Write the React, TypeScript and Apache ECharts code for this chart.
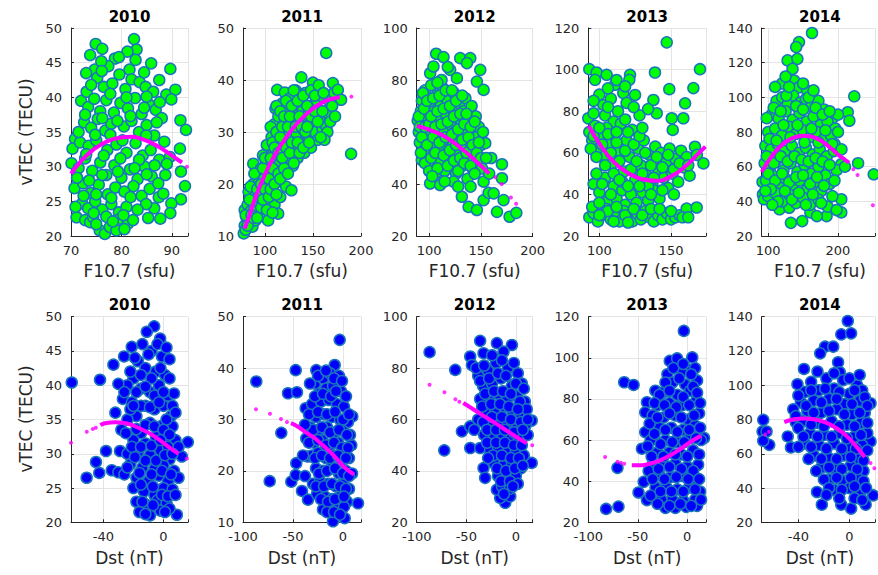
import React, { useEffect, useRef } from 'react';
import * as echarts from 'echarts';

// ---------- DATA ----------
const years = ['2010', '2011', '2012', '2013', '2014'];

// vTEC (TECU) vs F10.7 (sfu)
const f107_2010: number[][] = [
  [74.9,47.7],[76.2,47.0],[82.5,48.4],[83.0,46.9],[81.2,46.6],[73.8,46.1],[78.7,45.6],[74.7,44.0],[77.4,44.5],[81.6,44.0],[82.8,45.4],[85.9,44.9],[89.7,44.1],
  [75.2,42.8],[76.5,41.5],[78.2,42.0],[79.6,43.3],[80.8,41.2],[82.0,42.6],[83.6,42.2],[84.8,41.5],[86.3,40.8],[88.9,40.4],[90.7,41.1],[89.9,39.7],
  [72.0,39.5],[73.1,40.8],[73.4,38.6],[74.6,39.8],[75.8,38.0],[77.0,39.6],[78.5,37.8],[79.8,39.2],[81.3,38.4],[82.7,39.9],[84.0,37.6],[85.4,39.0],[86.8,38.2],[88.0,37.0],
  [72.6,36.4],[74.0,35.6],[75.3,36.9],[76.8,35.2],[78.0,36.2],[80.5,35.8],[82.0,36.6],[83.5,35.0],[85.0,36.0],[86.5,34.5],[91.7,36.7],[92.8,35.3],
  [70.8,34.0],[70.3,32.6],[71.8,33.5],[73.5,33.0],[75.0,33.8],[77.2,32.4],[79.0,33.2],[81.0,32.0],[82.8,33.4],[84.2,31.6],[85.8,32.4],[87.5,31.0],[91.6,32.6],
  [70.1,30.5],[69.8,28.5],[71.5,29.8],[72.8,31.2],[74.2,29.4],[75.8,30.6],[77.0,28.8],[78.6,30.2],[80.0,28.4],[81.7,29.6],[83.2,28.2],[84.6,30.0],[86.0,28.6],[88.7,28.8],[89.6,31.4],[91.8,29.3],
  [70.7,26.9],[72.4,27.6],[73.9,26.2],[75.5,27.4],[77.3,26.0],[78.8,27.0],[80.6,26.4],[82.4,27.2],[84.0,25.8],[85.6,26.8],[87.4,25.6],[92.6,27.2],[91.8,25.3],
  [71.1,22.7],[72.2,24.7],[73.4,24.0],[74.8,25.0],[76.2,23.8],[78.0,24.6],[79.5,23.4],[81.0,24.2],[86.5,24.0],[89.9,24.7],[89.7,23.3],[87.7,22.5],[85.3,22.6],
  [72.8,22.3],[73.8,22.0],[74.4,22.7],[75.7,20.8],[76.7,20.3],[77.7,21.3],[79.0,20.8],[79.7,22.5],[81.3,21.8],[82.3,22.3],
  [73,43.5],[76,45.2],[79.5,45.8],[84.5,43.6],[87.5,42.5],[74,41.8],[77.8,40.5],[81,40],[85,40.1],[87.6,39.3],[72.8,37.5],[76.2,37],[79.2,36.6],[81.8,37.3],
  [84.5,38.5],[87,36.4],[71.5,35],[74.8,34.6],[77.8,34.6],[80.2,33.8],[84.9,34.5],[88.5,33.6],[73,31.8],[76.5,31.6],[79.8,31.2],[83.5,31],[86.6,30.2],[89,30.4],
  [71.2,28.4],[73.6,28],[76.2,28.8],[79.3,29.3],[82.6,29.8],[85,28.9],[87.3,27.6],[72.5,25.8],[75,26],[78,25.5],[81.8,25.6],[84.9,24.6],[88.3,26.1],[70.9,24.2],
  [74.5,23.3],[77,22.8],[80.4,23],[83.2,23.8],[75,21.7],[78.3,22.1],[80.6,21],[76.1,43.8]
];
const f107_2011: number[][] = [
  [78,10.5],[79,12],[80,11.2],[81,13.5],[79,15],[82,16],[84,12.5],[85,14.8],[86,17.5],[83,18.5],[87,11.8],[88,20],[89,15.5],[90,13],[90,18.2],[91,22],[87.9,23.9],
  [93,16.5],[94,20.5],[95,14],[96,23],[97,18],[98,25.5],[99,21],[100,16.5],[101,13.5],[102,19.5],[103,24],[104,27.5],[103.4,13],[105,15.5],[106,22],[107,29],
  [108,18.5],[109,26],[110,31.5],[110,16],[111,34.5],[112,21.5],[112.8,38.1],[113,28],[113.8,14.3],[114,33],[115,24.5],[116,17.5],[117,30],[118,35.5],[119,22.5],
  [120,27],[120.7,37.6],[121,32],[122,19.5],[123,34.5],[124,25],[125,29.5],[126,36.5],[127.6,18.8],[128,31],[129,23.5],[130,27.5],[131,34],[132,38],[133,29.5],
  [134,25],[135,32],[136,36],[137.9,40.5],[138,28],[139,34],[140,30.5],[141,26],[142,37.5],[143,33],[145,29],[146,35],[147,31.5],[148,27],[150,39.5],[150,33.5],
  [152,30],[154,36],[155,28.5],[157,32.5],[158,37],[160,30.5],[162,34],[163.8,45.2],[164,31],[166,33.5],[167,36],[170.7,39.4],[172,37.5],[175.9,38.1],[179.3,36.2],[189.7,25.8],
  [80,14],[82,12],[84,17],[86,14],[88,13.5],[85,19.5],[89,22],[92,19],[92,13.5],[94,17.5],[96,15.5],[96,20],[98,17],[98,23],[100,19],[100,25],[102,15],[102,27.5],
  [104,17.5],[104,21],[106,19],[106,25],[106,31],[108,23],[108,28],[108,14.5],[110,20],[110,27],[112,18],[112,30],[112,35],[114,22],[114,26],[116,29],[116,34],
  [116,21],[118,25],[118,31],[120,23],[120,33],[122,27],[122,36],[124,22],[124,31],[126,26],[126,33],[128,28],[128,35],[130,24],[130,38],[132,31],[134,28],
  [134,36],[136,26],[136,33],[138,31],[140,27],[140,37],[142,30],[144,35],[144,31],[146,28],[148,33],[148,38],[152,34],[152,37],[155,32],[156,39],[160,34],
  [161,37.5],[165,30],[168,32],[170,35],[173,33],[162,28.5],[158,29]
];
const f107_2012: number[][] = [
  [106.8,90.1],[113.9,88.8],[130,88.4],[139.7,88.4],[136.5,86.5],[149.4,83.9],[101,82.6],[104.2,85.2],[120.3,83.9],[126.8,80.7],[146.1,79.4],[152.6,76.2],
  [89,64.4],[90,60],[91,56],[92,68],[93,72],[92.9,49.2],[94,63],[95,53],[96,76],[97,59],[98,66],[99,47],[100,71],[101,55],[102,78],[103,62],[104,51],[105,68],
  [106,44],[107,74],[108,58],[109,64],[110,49],[111,70],[112,54],[113,77],[114,61],[115,45],[116,67],[117,52],[118,72],[119,57],[120,63],[121,48],[122,69],
  [123,55],[124,75],[125,60],[126,44],[127,66],[128,51],[129,71],[130,57],[131,63],[132,47],[133,68],[134,54],[135,73],[136,60],[137,42],[138,50],[139,65],
  [140,56],[141,70],[142,46],[143,61],[144,53],[145,66],[146,58],[147,48],[148,62],[150,55],[151,46],[154.2,55.7],[101,40.2],[110.6,39.6],[123.5,40.9],
  [131.6,35.1],[138.1,31.2],[146.1,30],[152.6,33.8],[157.4,36.6],[162.3,36.4],[165.5,29.3],[171.9,33.8],[170.3,47.6],[170.3,42.2],[177.7,27.4],[184.2,28.9],
  [152.6,40.9],[158,44],[160,50],
  [90,66],[91,62],[92,52],[93,58],[94,75],[95,69],[96,48],[96,62],[98,72],[98,55],[100,63],[100,45],[102,66],[102,50],[104,73],[104,58],[106,62],[106,52],
  [108,68],[108,46],[110,74],[110,56],[112,63],[112,80],[114,51],[114,69],[116,58],[116,76],[118,47],[118,64],[120,70],[120,53],[122,59],[122,76],[124,49],
  [124,66],[126,55],[126,72],[128,61],[128,45],[130,67],[130,50],[132,57],[132,74],[134,63],[134,48],[136,67],[136,52],[138,58],[140,62],[140,47],[142,55],
  [144,64],[144,44],[146,52],[148,56],[150,50],[152,60],[155,50],[103,43],[115,41],[128,39],[140,39],[118,85],[108,79]
];
const f107_2013: number[][] = [
  [147,113.1],[93,100.2],[98.1,98.6],[97,95.1],[105.1,97.5],[121.4,97.5],[120.9,95.1],[138.8,98.6],[148.8,90.6],[165.6,91.1],[170.2,100.2],[110.9,92.7],
  [116.7,88.7],[124.9,87.8],[137.7,85.4],[159.8,83.8],[158.6,76.6],[150.5,76.6],[151.2,71],[102.8,83],[92.3,76.6],[140,79],[108,86],[113,80],[119,84],
  [128,78],[134,81],[104,78],[110,75],
  [93,70],[95,66],[97,73],[99,62],[101,68],[103,58],[105,72],[107,64],[109,55],[111,69],[113,61],[115,74],[117,51],[119,66],[121,58],[123,71],[125,47],
  [127,62],[129,54],[131,66],[133,49],[135,59],[137,45],[139,63],[141,52],[143,60],[145,48],[147,56],[149,62],[151,50],[153,57],[155,46],[157,61],[159,53],
  [161,58],[163,49],[166.7,62.9],[168,59],[172.6,54.9],[174.9,49.3],
  [96,45],[100,41],[104,48],[106,37],[110,44],[112,38],[116,42],[118,35],[122,40],[126,36],[130,41],[134,37],[138,42],[142,38],[148,43],
  [93,29],[96,31],[99,27],[102,30],[105,33],[108,28],[111,31],[114,27],[117,32],[120,29],[123,27],[126,31],[129,28],[132,32],[135,29],[138,27],[141,30],
  [144,28],[147,31],[150,28],[153,29],[156,30],[160.9,33.2],[167.9,33.7],
  [94,62],[96,68],[98,58],[100,72],[102,64],[104,54],[106,69],[108,60],[110,50],[112,65],[114,56],[116,46],[118,61],[120,70],[122,52],[124,64],[126,56],
  [128,68],[130,50],[132,60],[134,44],[136,54],[138,48],[140,58],[144,53],[148,59],[152,52],[156,55],[162,54],[98,50],[102,45],[108,40],[114,47],[120,44],
  [128,44],[136,40],[144,42],[152,40],[95,34],[100,36],[106,32],[112,34],[118,30],[124,33],[130,30],[136,33],[142,33],[150,32],[158,29],[162,29],[100,30],
  [110,27],[120,26.5],[96,79],[100,88],[106,91],[112,95],[118,92],[124,82],[130,72],[106,82],[112,70],[118,76],[96,85]
];
const f107_2014: number[][] = [
  [162.8,137.1],[144.2,131.9],[140.2,129],[127.9,121.3],[141.9,122.2],[134.9,116.4],[137.2,109.7],[144.2,105.8],[155.8,103.9],[223.3,100.6],[214,91.4],[216.3,86.5],
  [228.8,62],[251.2,55.6],[204.7,61.4],[195.3,73],[204.7,41.2],[204.7,33.6],[183.7,31.5],
  [92,51.2],[92.5,44],[94,41.2],[132.6,27.6],[148.8,28.6],[160.5,33.6],[169.8,31.5],[116.3,35.4],[130.2,36.3],
  [112,98],[120,100],[128,96],[136,101],[146,97],[154,99],[162,95],[172,98],[180,93],[192,88],[200,90],
  [105,90],[115,88],[125,92],[135,87],[145,91],[155,86],[165,89],[175,84],[185,86],[196,82],
  [100,80],[110,82],[120,78],[130,83],[140,79],[150,81],[160,77],[170,80],[180,76],[190,78],
  [96,72],[104,70],[114,73],[124,69],[134,72],[144,68],[154,71],[164,67],[174,70],[184,66],[194,69],
  [95,62],[103,60],[112,64],[122,58],[132,62],[142,57],[152,61],[162,56],[172,60],[182,55],[198,58],[210,60],
  [97,52],[106,55],[115,50],[125,53],[135,48],[145,52],[156,47],[166,51],[176,46],[188,50],
  [100,43],[110,45],[120,40],[130,44],[140,39],[150,42],[160,38],[172,41],[185,37],[198,35],
  [98,88],[108,94],[118,92],[126,101],[140,95],[150,93],[158,100],[168,94],[178,90],[188,92],[102,76],[112,75],[122,84],[132,77],[142,84],[152,74],[162,82],
  [172,74],[182,81],[192,73],[200,80],[98,66],[108,62],[118,66],[128,63],[138,66],[148,64],[158,63],[168,65],[178,63],[188,61],[205,70],[100,56],[110,52],
  [120,56],[130,51],[140,54],[150,55],[160,50],[170,54],[180,49],[195,52],[104,47],[114,40],[124,46],[134,41],[144,45],[154,38],[164,44],[176,39],[192,43],
  [120,108],[130,106],[150,108],[165,104],[110,106],[125,112],[96,46],[106,38]
];

// vTEC (TECU) vs Dst (nT)
const dst_2010: number[][] = [
  [-61,40.4],[-42.2,40.8],[-51.1,26.5],[-42.7,27.2],[-44.9,28.8],[-38.2,30.4],[-28.9,30.4],[-33.3,43],[-26.2,44.2],[-21.1,45.6],[-34.4,27.6],[-30,27.3],
  [16.2,31.7],[8.9,21.1],[12.2,29.6],
  [-6.2,48.6],[-11.1,47.8],[-2.2,46.8],[-14,46],[-8,45],[-1,44.2],[4,43.8],[-17,43.5],[-12,42.5],[-5,42],[1,41.5],[-20,41],[-24,40],[-30,40.2],[-15,39.5],
  [-9,39],[-3,40],[3,38.5],[7,38.8],[-27,38],[-21,37.5],[-12,37],[-6,36.5],[0,37],[5,35.5],[-18,35.5],[-24,35],[-9,34.5],[-2,34],[6,34],[-15,33],[-28,33.5],
  [-20,32],[-12,31.5],[-5,32.5],[1,31.8],[8,32],[-24,30],[-17,30.2],[-9,29.8],[-2,30.5],[4,29.2],[-22,28.5],[-14,28],[-6,27.8],[0,28.3],[7,27.5],[-26,27],
  [-18,26.5],[-10,26],[-3,26.8],[3,26],[10,26.5],[-20,25],[-13,24.5],[-6,24],[0,25],[6,24.8],[-18,23],[-11,22.5],[-4,23.2],[2,22.8],[-16,21.5],[-9,21],[-2,21.7],[4,22],
  [-19,44],[-10,44.5],[-4,46],[2,45.5],[-22,42],[-15,41.5],[-8,41],[-2,42.5],[4,41],[-26,39],[-18,39],[-12,39.8],[-6,38.5],[0,39],[6,37],[-22,36.5],[-15,37],
  [-9,36.8],[-3,37.5],[2,35],[8,36],[-25,33],[-18,33.6],[-12,34.2],[-6,34],[0,33.5],[4,32.8],[-21,31],[-15,31],[-8,31.2],[-2,32],[3,31],[10,31],[-19,29.5],
  [-12,29],[-5,29],[1,29.8],[6,30],[-24,28],[-16,27.2],[-8,27],[-1,27.5],[5,27],[-15,25.5],[-7,25.2],[-1,24],[3,23.8],[8,24],[-14,23],[-7,22.5],[1,21.5],
  [-12,21.2],[-20,37],[-32,36]
];
const dst_2011: number[][] = [
  [-86.7,37.4],[-73.3,18],[-51.7,17.9],[-47.3,19.2],[-46.7,21.5],[-61.7,27.4],[-47.3,39.6],[-55,35.1],[-46,35.3],[-3.3,45.5],[8.3,25],[15,13.7],[9.3,30.6],
  [-26.7,39.6],[-8.3,40.6],[-37.3,32.2],[-36.7,26.3],[-35,22.8],[-41,16.1],[-35,14.4],[-10,10.2],[1.7,10.8],
  [-28,37],[-20,38],[-13,39],[-4,38.5],[-24,35],[-17,36],[-10,36.5],[-2,35.5],[-31,33],[-22,33.5],[-14,33.8],[-6,33],[1,32.5],[-27,30.5],[-19,31],[-11,30.5],
  [-3,30],[5,29.5],[-33,28.5],[-24,28],[-16,28.5],[-8,27.5],[0,27.8],[7,27],[-29,25.5],[-21,26],[-13,25],[-5,25.5],[2,24.5],[-31,23],[-25,23.5],[-17,22.5],
  [-9,23],[-1,22],[6,22.5],[-27,20.5],[-20,20],[-12,20.5],[-4,19.5],[3,20],[9,19.5],[-30,17.5],[-23,18],[-15,17.5],[-7,17],[0,17.5],[6,16.5],[-26,15.5],
  [-18,15],[-11,14.5],[-3,15],[4,14],[-20,12.5],[-13,12],[-6,12.5],[1,13],
  [-33,37],[-25,38.5],[-17,39.5],[-9,38],[-1,37.5],[-28,34.5],[-20,35],[-12,34.5],[-7,35.5],[3,34.5],[-34,31],[-25,31.5],[-16,31],[-8,31.5],[0,30],[6,31],
  [-30,28],[-21,28.5],[-13,27.5],[-4,28],[4,27],[-34,25.5],[-25,26],[-17,25],[-9,25.5],[-1,24.5],[5,24.5],[-28,22.5],[-21,23],[-13,22.5],[-5,23],[3,22.5],
  [-24,19.5],[-16,20],[-8,20.5],[0,19.5],[6,19],[-27,17],[-19,17],[-11,17.5],[-3,17],[3,16.5],[-22,14.5],[-15,14],[-8,14.5],[1,15],[-16,12],[-9,12],[-3,11.5],
  [-38,19],[-40,23],[-38,29]
];
const dst_2012: number[][] = [
  [-87,86.2],[-61.1,79.3],[-72.2,48],[-54.4,55.4],[-46,57.3],[-46,48.9],[-35.9,48.9],[-32.6,41.1],[-31,37.3],[16,59.6],[16,43.1],
  [-36,90.6],[-32.6,85.8],[-4,89],[-19.1,89.7],[-12.4,86.4],[-46,84.5],[-44.3,81.2],
  [-10.7,27.6],[-15.8,29.5],[-5.7,30.1],[-19.1,32.7],
  [-38,77],[-28,79],[-20,82],[-8,80],[2,78],[-33,73],[-24,74],[-15,76],[-4,73],[6,74],[-36,68],[-26,69],[-18,70],[-9,68],[1,69],[9,67],[-30,63],[-21,64],
  [-12,65],[-3,63],[5,62],[-38,60],[-27,58],[-17,59],[-8,58.5],[1,57],[10,58],[-32,54],[-22,53],[-14,54],[-5,53],[4,52],[12,54],[-26,48],[-18,49],[-9,47],
  [0,48],[8,46],[-22,43],[-13,42],[-4,43],[5,41],[-18,38],[-9,37],[0,38],[-14,34],[-6,33],
  [-40,80],[-32,81],[-24,85],[-14,83],[-2,82],[-36,75],[-27,76],[-18,78],[-10,77],[0,74],[8,72],[-31,70],[-22,71],[-13,71],[-5,70],[4,67],[11,64],[-34,65],
  [-25,66],[-16,66],[-7,65],[2,64],[-42,56],[-33,59],[-24,61],[-14,61],[-5,60],[5,59],[12,60],[-29,56],[-20,56],[-11,56],[-2,55],[7,56],[-29,51],[-20,51],
  [-11,51],[-2,50],[6,50],[-23,46],[-14,46],[-5,45],[3,45],[-19,41],[-10,40],[-1,41],[7,42],[-15,36],[-6,36],[2,35],[-12,31],[-3,34],[-28,45]
];
const dst_2013: number[][] = [
  [-82,26.5],[-69.5,27.6],[-70.5,46.5],[-63.7,88.1],[-54.2,86.8],[-3.4,113.1],[-49.2,34.5],[-45.8,55.8],[-32.2,84],[17,61],
  [-17.6,98.5],[-10.2,99.7],[5.1,100.2],[0,94.5],
  [-40.7,78.4],[-42.4,73.5],[-42.4,63.9],[-44,39.7],[-40.7,30.8],
  [-20,92],[-6,93],[8,95],[-15,88],[-2,87],[10,89],[-25,83],[-10,82],[3,84],[-30,77],[-18,78],[-5,77],[9,79],[-35,72],[-24,71],[-12,72],[1,70],[12,73],
  [-28,66],[-16,66],[-4,65],[8,67],[-37,60],[-22,60],[-10,59],[3,61],[14,60],[-30,54],[-18,54],[-6,53],[6,55],[-35,48],[-24,48],[-12,48.5],[0,47],[11,48],
  [-28,43],[-17,42],[-5,42.5],[7,41],[-32,37],[-21,37],[-10,36],[2,37],[13,35],[-26,31],[-15,31],[-4,30.5],[8,31],[-22,27],[-12,27],[-1,27.5],[10,28],
  [-14,95],[-4,97],[4,92],[-22,88],[-8,90],[6,86],[-28,82],[-18,84],[-4,81],[10,83],[-33,78],[-23,77],[-11,76],[2,77],[13,78],[-38,68],[-30,71],[-18,73],
  [-6,71],[7,72],[-33,63],[-22,65],[-10,64],[2,65],[13,66],[-40,57],[-27,58],[-15,59],[-3,59],[9,61],[-36,52],[-24,52],[-12,53],[0,52],[12,53],[-39,45],
  [-29,46],[-18,47],[-6,46],[6,45],[-35,41],[-23,41],[-11,42],[1,41],[12,41],[-37,33],[-27,35],[-16,35],[-4,35],[8,36],[-30,29],[-18,28],[-7,29],[4,28],[14,31]
];
const dst_2014: number[][] = [
  [-67.5,79.8],[-68,73],[-64.9,73],[-62.8,65.2],[-67.5,67.6],
  [-1.3,137.5],[-6.4,129.7],[1.3,130.3],[-19.1,122.5],[-12.7,122.5],[-22.9,118.6],[-8.9,113.4],[-7.6,107.6],
  [-40.7,100.6],[-35.6,109.5],[-48.3,70.1],[-45.8,63.7],[-42,78.4],
  [16.5,89.5],[16.5,67.2],[18.6,35.7],[12.7,30.3],[1.3,28],[-6.4,30.3],[-21.6,30.3],[-25.4,37.7],
  [-30,102],[-18,104],[-5,103],[6,100],[-35,96],[-24,97],[-12,98],[0,95],[10,97],[-38,90],[-28,91],[-16,92],[-4,89],[8,91],[-33,85],[-22,84],[-10,86],
  [2,83],[12,84],[-37,79],[-26,78],[-14,79],[-2,77],[9,78],[-31,72],[-20,71],[-8,72],[4,70],[14,72],[-35,66],[-24,65],[-12,66],[0,64],[10,65],[-28,59],
  [-17,58],[-5,59],[6,57],[-22,52],[-11,51],[1,53],[11,50],[-16,45],[-5,44],[6,46],[-12,39],[0,40],[9,38],
  [-25,108],[-12,107],[0,104],[8,106],[-40,94],[-30,97],[-19,98],[-8,96],[4,97],[12,93],[-44,86],[-34,88],[-22,90],[-10,92],[2,89],[14,88],[-42,82],[-28,84],
  [-16,85],[-4,83],[8,84],[-40,75],[-30,77],[-20,76],[-8,76],[4,76],[14,78],[-36,70],[-25,70],[-14,70],[-2,69],[9,71],[-40,64],[-30,64],[-18,63],[-6,63],
  [5,63],[14,62],[-32,57],[-22,57],[-10,57],[1,58],[11,56],[-26,50],[-16,52],[-6,51],[6,51],[-20,45],[-10,46],[1,46],[11,44],[-16,40],[-6,39],[4,41],[13,40],
  [-8,34],[4,34],[-18,36],[10,33]
];

// quadratic fit curves (dense part) and isolated fit dots
const f107Fit_2010 = [[70,29.0],[72,30.8],[74,32.2],[76,33.2],[78,33.9],[80,34.2],[82,34.3],[84,34.0],[86,33.4],[88,32.6],[90,31.6],[92,30.6]];
const f107FitDots_2010 = [[93,30.0]];
const f107Fit_2011 = [[79,11.4],[85,14.6],[90,17.3],[100,21.8],[110,25.5],[120,28.4],[130,30.9],[140,32.9],[150,34.5],[160,35.7],[170,36.4],[178,36.7]];
const f107FitDots_2011 = [[190,36.8]];
const f107Fit_2012 = [[88,62.3],[95,61.6],[100,60.9],[110,59.3],[120,57],[130,54],[140,50.7],[150,47],[158,44]];
const f107FitDots_2012 = [[164,42.6],[170,40],[179,34.8],[184,32.4]];
const f107Fit_2013 = [[92.5,73],[100,64.5],[110,55.6],[120,50.3],[130,47.3],[140,46.6],[150,48.7],[160,53.5],[170,60.3],[174,63]];
const f107FitDots_2013: number[][] = [];
const f107Fit_2014 = [[91,57],[100,63],[110,68.5],[120,72.6],[130,75.5],[140,77.2],[150,77.9],[160,77.6],[170,76.2],[180,73.8],[190,70.6],[200,67],[210,64],[216,62.2]];
const f107FitDots_2014 = [[222,58.5],[228,55.2],[250,37.7]];

const dstFit_2010 = [[-42,34.2],[-38,34.5],[-32,34.6],[-26,34.5],[-20,34.1],[-14,33.5],[-8,32.8],[-2,31.9],[4,30.9],[10,30.0]];
const dstFitDots_2010 = [[-61.5,31.6],[-51,33.2],[-47,33.6],[-45,33.8],[15.5,29.3]];
const dstFit_2011 = [[-52,29.3],[-45,28.6],[-38,27.6],[-30,26.6],[-22,25.3],[-14,23.9],[-6,22.3],[2,20.6],[11,19.3]];
const dstFitDots_2011 = [[-87,32],[-73,31.1],[-62,30.1],[-56,29.5]];
const dstFit_2012 = [[-53,66.4],[-45,64.5],[-37,62.5],[-29,60.6],[-21,58.7],[-13,56.6],[-5,54.6],[3,52.6],[11,50.7]];
const dstFitDots_2012 = [[-87,73.5],[-72,70.6],[-61,67.9],[-57,66.9],[16.5,50]];
const dstFit_2013 = [[-56,47.7],[-48,47.7],[-40,48.2],[-32,49.3],[-24,50.9],[-16,52.9],[-8,55.3],[0,58],[8,60.5],[14,62]];
const dstFitDots_2013 = [[-83,51.8],[-70.5,49.4],[-67,49.0],[-63.7,48.5]];
const dstFit_2014 = [[-51,78.5],[-44,80],[-36,80.6],[-28,80.2],[-20,78.6],[-12,75.8],[-4,71.5],[4,65.5],[12,58]];
const dstFitDots_2014 = [[-69,68.7],[-66,71.2],[-63,72.8],[16.5,54.6],[19.5,51.6]];

// axis extents and tick steps
const f107Range = [[70, 93.2], [77.2, 200], [88, 200], [92.3, 174.4], [90.8, 253]];
const f107Step = [10, 50, 50, 50, 100];
const dstRange = [[-61.5, 16.3], [-100, 18], [-100, 17], [-100, 19], [-68.7, 20]];
const dstStep = [40, 50, 50, 50, 40];
const tecRange = [[20, 50], [10, 50], [20, 100], [20, 120], [20, 140]];
const tecStep = [5, 10, 20, 20, 20];

const f107Data = [f107_2010, f107_2011, f107_2012, f107_2013, f107_2014];
const dstData = [dst_2010, dst_2011, dst_2012, dst_2013, dst_2014];
const f107Fits = [f107Fit_2010, f107Fit_2011, f107Fit_2012, f107Fit_2013, f107Fit_2014];
const f107FitDots = [f107FitDots_2010, f107FitDots_2011, f107FitDots_2012, f107FitDots_2013, f107FitDots_2014];
const dstFits = [dstFit_2010, dstFit_2011, dstFit_2012, dstFit_2013, dstFit_2014];
const dstFitDots = [dstFitDots_2010, dstFitDots_2011, dstFitDots_2012, dstFitDots_2013, dstFitDots_2014];

// ---------- LAYOUT ----------
const colLeft = [71, 243, 416.7, 588.3, 761.7];
const colWidth = [117, 118, 116, 117.7, 116.3];
const rows = [{ top: 28, height: 208 }, { top: 316.7, height: 205.6 }];
const FONT = 'DejaVu Sans';
const INK = '#262626';
const GRID_COLOR = '#e4e4e4';

const fmt = (step: number) => (v: number) => {
  const r = v / step;
  return Math.abs(r - Math.round(r)) < 1e-6 ? String(Math.round(v)) : '';
};

function buildOption() {
  const grid: any[] = [];
  const xAxis: any[] = [];
  const yAxis: any[] = [];
  const series: any[] = [];
  const graphic: any[] = [];

  for (let r = 0; r < 2; r++) {
    for (let c = 0; c < 5; c++) {
      const idx = r * 5 + c;
      grid.push({ left: colLeft[c], top: rows[r].top, width: colWidth[c], height: rows[r].height, containLabel: false });
      const xr = r === 0 ? f107Range[c] : dstRange[c];
      const xs = r === 0 ? f107Step[c] : dstStep[c];
      xAxis.push({
        type: 'value', gridIndex: idx, min: xr[0], max: xr[1], minInterval: xs, maxInterval: xs, splitNumber: 5,
        axisLine: { show: true, onZero: false, lineStyle: { color: INK, width: 1 } },
        axisTick: { show: true, inside: true, length: 3, lineStyle: { color: INK } },
        axisLabel: { color: INK, fontSize: 13, fontFamily: FONT, margin: 8, formatter: fmt(xs), hideOverlap: false },
        splitLine: { show: true, lineStyle: { color: GRID_COLOR, width: 1 } },
      });
      yAxis.push({
        type: 'value', gridIndex: idx, min: tecRange[c][0], max: tecRange[c][1], interval: tecStep[c],
        axisLine: { show: true, onZero: false, lineStyle: { color: INK, width: 1 } },
        axisTick: { show: true, inside: true, length: 3, lineStyle: { color: INK } },
        axisLabel: { color: INK, fontSize: 13, fontFamily: FONT, margin: 9 },
        splitLine: { show: true, lineStyle: { color: GRID_COLOR, width: 1 } },
      });
      const pts = r === 0 ? f107Data[c] : dstData[c];
      series.push({
        type: 'scatter', xAxisIndex: idx, yAxisIndex: idx, data: pts, symbolSize: 11,
        itemStyle: { color: r === 0 ? '#00ff00' : '#0000ff', borderColor: '#1a75bc', borderWidth: 1.5, opacity: 1 },
        z: 2,
      });
      series.push({
        type: 'line', xAxisIndex: idx, yAxisIndex: idx, data: r === 0 ? f107Fits[c] : dstFits[c],
        smooth: true, symbol: 'none', lineStyle: { color: '#ff00ff', width: 4 }, z: 3,
      });
      series.push({
        type: 'scatter', xAxisIndex: idx, yAxisIndex: idx, data: r === 0 ? f107FitDots[c] : dstFitDots[c],
        symbolSize: 4, itemStyle: { color: '#ff00ff' }, z: 3,
      });
      graphic.push({
        type: 'text', x: colLeft[c] + colWidth[c] / 2, y: r === 0 ? 17 : 305,
        style: { text: years[c], font: `bold 15px "${FONT}"`, fill: '#000', textAlign: 'center', textVerticalAlign: 'middle' },
      });
      graphic.push({
        type: 'text', x: colLeft[c] + colWidth[c] / 2, y: r === 0 ? 271 : 558,
        style: { text: r === 0 ? 'F10.7 (sfu)' : 'Dst (nT)', font: `17px "${FONT}"`, fill: INK, textAlign: 'center', textVerticalAlign: 'middle' },
      });
    }
    graphic.push({
      type: 'text', x: 26, y: r === 0 ? 132 : 419, rotation: Math.PI / 2,
      style: { text: 'vTEC (TECU)', font: `17px "${FONT}"`, fill: INK, textAlign: 'center', textVerticalAlign: 'middle' },
    });
  }

  return { animation: false, backgroundColor: '#ffffff', grid, xAxis, yAxis, series, graphic };
}

export default function App() {
  const ref = useRef<HTMLDivElement>(null);
  useEffect(() => {
    document.body.style.margin = '0';
    if (!ref.current) return;
    const chart = echarts.init(ref.current, undefined, { renderer: 'svg' });
    chart.setOption(buildOption() as any);
    return () => chart.dispose();
  }, []);
  return <div ref={ref} style={{ width: 878, height: 575 }} />;
}
